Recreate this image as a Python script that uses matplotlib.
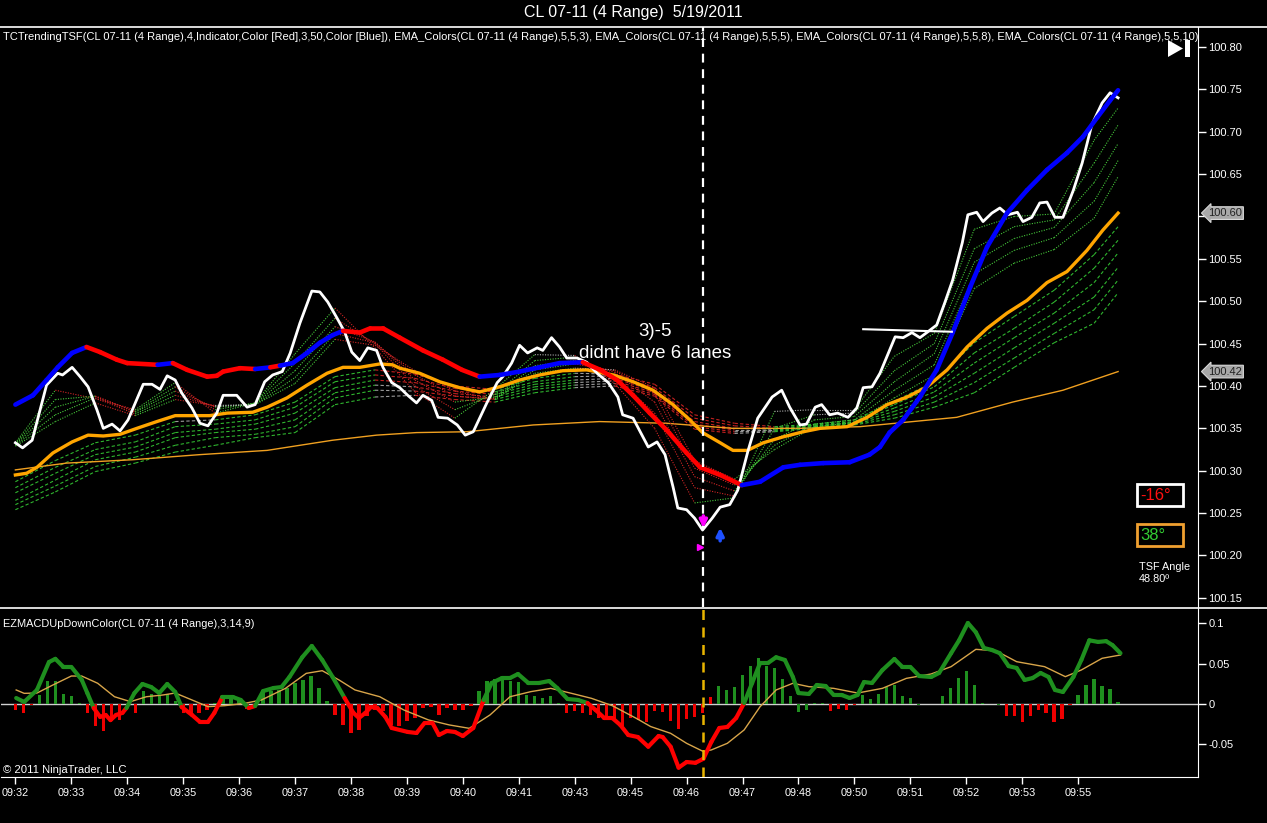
import numpy as np
import matplotlib
matplotlib.use("Agg")
import matplotlib.pyplot as plt
from matplotlib.collections import LineCollection
from matplotlib.patches import Rectangle, Polygon
from matplotlib.lines import Line2D
import matplotlib.transforms as mtransforms

# ---------------- DATA (bar index = range bar number, prices in USD) ----------------
title_text = "CL 07-11 (4 Range)  5/19/2011"
time_labels = ["09:32", "09:33", "09:34", "09:35", "09:36", "09:37", "09:38", "09:39", "09:40", "09:41",
               "09:43", "09:45", "09:46", "09:47", "09:48", "09:50", "09:51", "09:52", "09:53", "09:55"]
bars_per_label = 7

close_bar = [0.0, 0.9, 2.1, 3.9, 5.3, 5.9, 7.1, 8.1, 9.1, 10.2,
             11.0, 12.1, 13.1, 14.1, 15.0, 16.0, 17.1, 18.1, 19.0, 20.0,
             20.8, 22.1, 23.1, 24.1, 25.2, 26.0, 27.7, 29.0, 30.0, 31.2,
             32.2, 33.4, 34.4, 35.6, 37.1, 38.1, 39.1, 40.2, 41.2, 42.1,
             43.1, 44.1, 45.2, 46.0, 47.1, 48.1, 49.1, 50.2, 51.0, 52.1,
             52.9, 54.1, 55.3, 56.3, 57.3, 59.0, 60.3, 61.0, 62.1, 63.1,
             64.1, 65.3, 66.0, 67.1, 68.1, 69.0, 70.3, 71.5, 72.8, 74.2,
             75.4, 76.0, 77.3, 78.2, 79.2, 80.3, 81.3, 82.3, 82.9, 84.0,
             85.0, 86.0, 87.2, 88.2, 89.4, 90.4, 91.7, 92.9, 94.7, 95.9,
             96.9, 98.2, 99.0, 100.1, 100.9, 101.9, 102.9, 104.2, 105.3, 106.1,
             107.2, 108.2, 110.1, 111.1, 112.2, 113.2, 114.2, 115.3, 116.3, 117.3,
             118.5, 119.2, 120.3, 121.1, 122.2, 123.2, 124.2, 125.4, 126.1, 127.2,
             128.2, 129.1, 130.1, 131.1, 132.4, 133.5, 134.7, 136.0, 137.0, 138.0]
close_price = [100.333, 100.327, 100.336, 100.401, 100.415, 100.413, 100.422, 100.411, 100.399, 100.372,
               100.350, 100.355, 100.347, 100.360, 100.380, 100.402, 100.402, 100.396, 100.412, 100.407,
               100.392, 100.374, 100.356, 100.353, 100.368, 100.389, 100.389, 100.375, 100.378, 100.405,
               100.413, 100.417, 100.439, 100.474, 100.512, 100.511, 100.499, 100.481, 100.464, 100.440,
               100.430, 100.445, 100.442, 100.422, 100.404, 100.398, 100.389, 100.380, 100.389, 100.383,
               100.363, 100.362, 100.354, 100.342, 100.346, 100.380, 100.404, 100.411, 100.427, 100.448,
               100.439, 100.445, 100.442, 100.457, 100.446, 100.433, 100.433, 100.428, 100.415, 100.404,
               100.387, 100.366, 100.362, 100.346, 100.328, 100.334, 100.319, 100.281, 100.256, 100.254,
               100.244, 100.230, 100.244, 100.257, 100.260, 100.277, 100.324, 100.362, 100.387, 100.395,
               100.375, 100.354, 100.355, 100.375, 100.378, 100.366, 100.368, 100.363, 100.374, 100.398,
               100.399, 100.415, 100.458, 100.457, 100.463, 100.457, 100.464, 100.472, 100.498, 100.525,
               100.569, 100.602, 100.605, 100.594, 100.604, 100.610, 100.602, 100.605, 100.594, 100.599,
               100.616, 100.617, 100.599, 100.599, 100.631, 100.663, 100.708, 100.734, 100.746, 100.740]

# TCTrendingTSF line (1 = rising / blue, 0 = falling / red)
tsf_bar = [0.0, 2.2, 3.9, 5.3, 7.1, 8.9, 10.6, 12.7, 14.0, 17.8,
           19.7, 21.5, 24.0, 25.2, 26.0, 28.1, 30.0, 31.9, 33.1, 34.7,
           36.5, 38.1, 39.7, 41.0, 43.1, 44.4, 46.0, 48.1, 51.0, 53.5,
           55.9, 58.1, 60.6, 63.1, 65.6, 68.1, 71.0, 73.2, 75.3, 77.3,
           79.4, 81.5, 84.0, 85.7, 88.2, 90.9, 93.2, 96.1, 98.2, 101.1,
           104.4, 106.9, 108.2, 109.4, 111.1, 113.2, 115.3, 117.3, 119.5, 121.6,
           124.1, 126.6, 129.1, 131.6, 133.6, 135.4, 137.0, 138.0]
tsf_price = [100.378, 100.389, 100.407, 100.422, 100.439, 100.446, 100.440, 100.431, 100.427, 100.425,
             100.427, 100.419, 100.411, 100.412, 100.417, 100.421, 100.420, 100.422, 100.424, 100.427,
             100.439, 100.451, 100.460, 100.465, 100.463, 100.468, 100.468, 100.457, 100.442, 100.431,
             100.419, 100.411, 100.413, 100.417, 100.422, 100.427, 100.428, 100.419, 100.407, 100.389,
             100.368, 100.348, 100.321, 100.304, 100.295, 100.283, 100.287, 100.304, 100.307, 100.309,
             100.310, 100.319, 100.328, 100.345, 100.360, 100.387, 100.419, 100.463, 100.517, 100.564,
             100.604, 100.631, 100.655, 100.675, 100.694, 100.717, 100.737, 100.749]
tsf_up = [1, 1, 1, 1, 1, 1, 0, 0, 0, 0,
          1, 0, 0, 0, 0, 0, 0, 1, 0, 1,
          1, 1, 1, 1, 0, 0, 0, 0, 0, 0,
          0, 0, 1, 1, 1, 1, 1, 0, 0, 0,
          0, 0, 0, 0, 0, 0, 1, 1, 1, 1,
          1, 1, 1, 1, 1, 1, 1, 1, 1, 1,
          1, 1, 1, 1, 1, 1, 1, 1]

# thick orange EMA
ema_bar = [0.0, 1.4, 2.7, 4.7, 7.1, 9.1, 11.0, 13.1, 15.2, 17.7,
           20.0, 21.8, 24.3, 26.5, 29.7, 31.5, 34.0, 36.5, 39.0, 41.0,
           43.1, 45.6, 47.2, 48.1, 50.6, 53.1, 55.6, 58.1, 60.6, 63.1,
           65.6, 68.5, 71.5, 74.8, 77.3, 79.8, 82.3, 84.4, 86.0, 88.2,
           89.8, 91.6, 93.6, 96.1, 98.6, 100.7, 104.1, 106.6, 109.1, 111.6,
           114.1, 116.6, 119.1, 121.6, 124.1, 126.6, 129.1, 131.6, 134.1, 136.1, 138.0]
ema_price = [100.295, 100.297, 100.304, 100.321, 100.334, 100.342, 100.341, 100.343, 100.350, 100.358,
             100.365, 100.365, 100.365, 100.368, 100.369, 100.375, 100.386, 100.401, 100.415, 100.422,
             100.422, 100.426, 100.425, 100.421, 100.415, 100.405, 100.398, 100.393, 100.399, 100.407,
             100.413, 100.418, 100.419, 100.413, 100.405, 100.395, 100.378, 100.360, 100.345, 100.333,
             100.324, 100.324, 100.333, 100.340, 100.346, 100.350, 100.352, 100.363, 100.378, 100.387,
             100.399, 100.419, 100.446, 100.468, 100.486, 100.501, 100.522, 100.535, 100.560, 100.584, 100.604]

# thin orange (slow) average
slow_bar = [0.0, 6.4, 14.7, 23.1, 31.5, 35.6, 39.7, 45.2, 50.2, 56.5,
            64.8, 73.1, 81.5, 89.8, 98.2, 105.7, 112.3, 117.8, 124.8, 131.1, 138.0]
slow_price = [100.301, 100.309, 100.313, 100.319, 100.324, 100.330, 100.336, 100.342, 100.345, 100.346,
              100.354, 100.358, 100.356, 100.350, 100.350, 100.352, 100.358, 100.363, 100.381, 100.395, 100.417]

# EMA ribbons sampled every 5 bars
rib_bar = [0, 5, 10, 15, 20, 25, 30, 35, 40, 45, 50, 55, 60, 65, 70, 75, 80, 85, 90, 95,
           100, 105, 110, 115, 120, 125, 130, 135, 138]
fast1 = [100.333, 100.395, 100.385, 100.372, 100.404, 100.368, 100.380, 100.438, 100.492, 100.445,
         100.393, 100.362, 100.396, 100.437, 100.436, 100.403, 100.350, 100.262, 100.268, 100.370,
         100.372, 100.372, 100.435, 100.462, 100.585, 100.600, 100.603, 100.690, 100.728]
fast2 = [100.332, 100.384, 100.388, 100.370, 100.399, 100.372, 100.380, 100.427, 100.480, 100.450,
         100.400, 100.372, 100.390, 100.430, 100.434, 100.411, 100.368, 100.280, 100.270, 100.350,
         100.366, 100.368, 100.418, 100.450, 100.562, 100.588, 100.596, 100.663, 100.708]
fast3 = [100.331, 100.375, 100.388, 100.369, 100.394, 100.375, 100.379, 100.418, 100.470, 100.452,
         100.407, 100.381, 100.387, 100.424, 100.430, 100.416, 100.381, 100.293, 100.276, 100.337,
         100.360, 100.364, 100.405, 100.438, 100.546, 100.574, 100.587, 100.640, 100.686]
fast4 = [100.330, 100.366, 100.386, 100.367, 100.389, 100.376, 100.378, 100.410, 100.462, 100.451,
         100.413, 100.388, 100.385, 100.419, 100.426, 100.418, 100.391, 100.303, 100.283, 100.330,
         100.355, 100.360, 100.395, 100.425, 100.532, 100.560, 100.575, 100.618, 100.666]
fast5 = [100.329, 100.358, 100.380, 100.365, 100.384, 100.377, 100.378, 100.403, 100.455, 100.448,
         100.418, 100.394, 100.384, 100.415, 100.421, 100.419, 100.398, 100.312, 100.290, 100.325,
         100.352, 100.357, 100.386, 100.413, 100.515, 100.545, 100.561, 100.598, 100.647]
slowr1 = [100.287, 100.312, 100.333, 100.342, 100.358, 100.360, 100.366, 100.381, 100.411, 100.419,
          100.414, 100.400, 100.396, 100.409, 100.415, 100.414, 100.402, 100.366, 100.356, 100.352,
          100.355, 100.360, 100.382, 100.405, 100.451, 100.482, 100.513, 100.555, 100.588]
slowr2 = [100.280, 100.304, 100.325, 100.334, 100.352, 100.355, 100.360, 100.375, 100.405, 100.413,
          100.409, 100.397, 100.393, 100.405, 100.411, 100.412, 100.398, 100.362, 100.353, 100.350,
          100.354, 100.358, 100.378, 100.399, 100.439, 100.468, 100.499, 100.539, 100.572]
slowr3 = [100.274, 100.297, 100.319, 100.328, 100.345, 100.349, 100.355, 100.368, 100.398, 100.407,
          100.404, 100.394, 100.390, 100.402, 100.407, 100.409, 100.394, 100.358, 100.350, 100.349,
          100.353, 100.357, 100.374, 100.393, 100.427, 100.457, 100.486, 100.522, 100.557]
slowr4 = [100.265, 100.289, 100.313, 100.322, 100.339, 100.345, 100.349, 100.360, 100.392, 100.401,
          100.399, 100.391, 100.387, 100.399, 100.404, 100.406, 100.392, 100.355, 100.348, 100.348,
          100.352, 100.356, 100.370, 100.387, 100.415, 100.445, 100.474, 100.505, 100.540]
slowr5 = [100.260, 100.282, 100.305, 100.316, 100.330, 100.339, 100.343, 100.352, 100.386, 100.395,
          100.394, 100.388, 100.384, 100.396, 100.401, 100.403, 100.390, 100.352, 100.346, 100.347,
          100.351, 100.355, 100.366, 100.381, 100.404, 100.433, 100.462, 100.490, 100.525]
slowr6 = [100.254, 100.275, 100.299, 100.309, 100.322, 100.330, 100.339, 100.345, 100.378, 100.387,
          100.389, 100.384, 100.381, 100.392, 100.398, 100.400, 100.388, 100.349, 100.344, 100.346,
          100.350, 100.354, 100.362, 100.375, 100.392, 100.422, 100.451, 100.474, 100.510]

# drawn horizontal line, signal arrows, annotation
hline_bar = [106.1, 117.2]
hline_price = [100.467, 100.464]
signal_bar = 86.1
sell_arrow = (86.1, 100.250, 100.229)
sell_tri = (85.7, 100.210)
buy_arrow = (88.2, 100.214, 100.236)
note_bar = 80.0
note_lines = [("3)-5", 100.4637), ("didnt have 6 lanes", 100.4389)]

# EZMACD panel
macd_bar = [0.1, 1.1, 2.7, 4.2, 5.0, 6.0, 7.0, 8.3, 9.0, 9.8,
            10.6, 11.3, 11.9, 12.6, 13.4, 13.9, 14.9, 15.9, 17.0, 18.0,
            19.0, 20.0, 20.8, 22.1, 23.1, 24.1, 24.9, 25.9, 27.2, 28.2,
            29.2, 30.0, 31.0, 32.3, 33.3, 34.3, 35.9, 37.1, 38.4, 39.7,
            41.2, 42.3, 43.0, 43.8, 44.5, 45.3, 46.3, 47.1, 49.1, 50.2,
            51.2, 52.2, 53.0, 54.0, 55.0, 56.0, 57.3, 58.6, 59.6, 60.9,
            61.9, 62.9, 64.2, 65.5, 66.8, 67.8, 69.1, 70.4, 71.6, 72.6,
            73.7, 74.7, 75.7, 76.7, 77.9, 79.2, 80.5, 81.0, 82.0, 83.0,
            84.0, 85.1, 86.1, 87.1, 88.1, 89.1, 90.2, 91.2, 92.2, 93.2,
            94.2, 95.2, 96.3, 97.3, 98.0, 99.3, 100.3, 101.4, 102.4, 103.4,
            104.4, 105.4, 106.2, 107.2, 108.5, 110.0, 111.0, 112.0, 113.1, 114.6,
            115.6, 117.1, 118.1, 119.2, 120.2, 121.2, 122.2, 123.2, 124.3, 125.3,
            126.3, 127.3, 128.3, 129.3, 130.1, 131.1, 132.4, 133.4, 134.4, 135.5,
            136.5, 137.3, 138.3]
macd_val = [0.0074, 0.0025, 0.0174, 0.052, 0.056, 0.046, 0.046, 0.030, 0.0136, -0.005,
            -0.016, -0.0136, -0.020, -0.0136, -0.011, -0.005, 0.0136, 0.0248, 0.021, 0.0136,
            0.0248, 0.0149, -0.0037, -0.0136, -0.0223, -0.0223, -0.011, 0.0087, 0.0087, 0.005,
            -0.005, -0.0025, 0.016, 0.0198, 0.021, 0.0335, 0.058, 0.072, 0.0546, 0.0335,
            0.0074, -0.011, -0.0174, -0.011, -0.0037, -0.005, -0.016, -0.0298, -0.0347, -0.036,
            -0.0236, -0.0236, -0.0385, -0.0335, -0.0347, -0.0397, -0.0298, 0.005, 0.026, 0.0322,
            0.0322, 0.0372, 0.026, 0.026, 0.0285, 0.0198, 0.0062, 0.005, 0.0012, -0.0074,
            -0.0174, -0.0174, -0.026, -0.0385, -0.041, -0.053, -0.0397, -0.041, -0.053, -0.079,
            -0.072, -0.073, -0.068, -0.047, -0.0298, -0.0285, -0.0174, 0.0012, 0.026, 0.051,
            0.051, 0.058, 0.0546, 0.0335, 0.0136, 0.0124, 0.0236, 0.0223, 0.0112, 0.0112,
            0.0074, 0.0112, 0.0273, 0.026, 0.042, 0.0558, 0.046, 0.046, 0.0347, 0.0335,
            0.0385, 0.063, 0.079, 0.1005, 0.089, 0.0695, 0.067, 0.063, 0.047, 0.0447,
            0.0298, 0.0322, 0.0385, 0.0335, 0.0174, 0.0149, 0.0335, 0.0546, 0.079, 0.077,
            0.078, 0.073, 0.063]
sig_bar = [0.1, 1.1, 2.7, 4.7, 7.0, 8.3, 10.3, 12.4, 14.4, 16.4,
           18.5, 20.0, 22.1, 24.1, 26.2, 28.7, 30.8, 33.8, 36.4, 38.4,
           40.5, 42.5, 45.6, 48.6, 51.7, 54.3, 56.8, 59.4, 61.9, 64.5,
           67.0, 69.6, 72.1, 74.7, 77.7, 79.5, 82.0, 84.0, 86.1, 87.1,
           89.1, 91.2, 93.2, 95.2, 97.3, 99.3, 102.4, 105.4, 108.5, 111.5,
           114.6, 117.1, 120.2, 122.7, 125.3, 128.8, 131.4, 133.4, 136.0, 138.3]
sig_val = [0.0174, 0.0132, 0.0136, 0.0236, 0.0347, 0.0347, 0.0257, 0.009, 0.0029, 0.009,
           0.0112, 0.0136, 0.005, -0.0033, -0.0021, 0.0008, 0.005, 0.0194, 0.038, 0.0413,
           0.0298, 0.0174, 0.009, -0.0074, -0.0198, -0.026, -0.0302, -0.0136, 0.009, 0.0153,
           0.0194, 0.0132, 0.007, -0.0021, -0.0178, -0.028, -0.0364, -0.0488, -0.059, -0.057,
           -0.0488, -0.0322, -0.0033, 0.0174, 0.0257, 0.0215, 0.0194, 0.0136, 0.0194, 0.0318,
           0.0372, 0.0463, 0.0678, 0.0661, 0.0525, 0.0463, 0.0339, 0.0422, 0.0567, 0.0608]
hist_val = [-0.0070, -0.0112, -0.0012, 0.0116, 0.0290, 0.0282, 0.0124, 0.0104, 0.0010, -0.0112,
            -0.0277, -0.0339, -0.0215, -0.0195, -0.0050, -0.0112, 0.0157, 0.0124, 0.0095, 0.0124,
            0.0033, -0.0112, -0.0132, -0.0112, -0.0070, 0.0012, 0.0095, 0.0083, 0.0062, -0.0062,
            -0.0021, 0.0178, 0.0157, 0.0178, 0.0199, 0.0261, 0.0302, 0.0344, 0.0199, 0.0033,
            -0.0132, -0.0257, -0.0360, -0.0319, -0.0153, -0.0070, -0.0091, -0.0257, -0.0277, -0.0215,
            -0.0174, -0.0050, -0.0037, -0.0132, -0.0050, -0.0070, -0.0070, -0.0021, 0.0157, 0.0282,
            0.0311, 0.0302, 0.0282, 0.0269, 0.0116, 0.0104, 0.0075, 0.0095, 0.0012, -0.0112,
            -0.0091, -0.0112, -0.0132, -0.0174, -0.0153, -0.0215, -0.0277, -0.0174, -0.0195, -0.0228,
            -0.0091, -0.0099, -0.0215, -0.0311, -0.0186, -0.0161, -0.0112, 0.0083, 0.0228, 0.0178,
            0.0211, 0.0364, 0.0468, 0.0571, 0.0468, 0.0447, 0.0311, 0.0095, -0.0104, -0.0070,
            0.0012, 0.0012, -0.0091, -0.0062, -0.0079, -0.0012, 0.0116, 0.0066, 0.0128, 0.0207,
            0.0240, 0.0095, 0.0075, -0.0008, 0.0000, 0.0000, 0.0104, 0.0199, 0.0323, 0.0406,
            0.0240, 0.0012, 0.0004, -0.0008, -0.0145, -0.0145, -0.0228, -0.0153, -0.0079, -0.0112,
            -0.0228, -0.0186, -0.0012, 0.0116, 0.0240, 0.0315, 0.0228, 0.0190, 0.0025]
hist_color_override = {87: "red", 98: "green", 99: "green", 113: "green", 123: "green"}

angle_red_text = "-16°"
angle_green_text = "38°"
tsf_angle_text = ["TSF Angle", "48.80º"]
main_label = ("TCTrendingTSF(CL 07-11 (4 Range),4,Indicator,Color [Red],3,50,Color [Blue]), "
              "EMA_Colors(CL 07-11 (4 Range),5,5,3), EMA_Colors(CL 07-11 (4 Range),5,5,5), "
              "EMA_Colors(CL 07-11 (4 Range),5,5,8), EMA_Colors(CL 07-11 (4 Range),5,5,10)")
macd_label = "EZMACDUpDownColor(CL 07-11 (4 Range),3,14,9)"
copyright_text = "© 2011 NinjaTrader, LLC"

# ---------------- STYLE / LAYOUT ----------------
plt.rcParams['font.family'] = ['Liberation Sans', 'DejaVu Sans']
W, H = 1267, 823
fig = plt.figure(figsize=(W / 100, H / 100), dpi=100, facecolor='black')


def fx(p):
    return p / W


def fy(p):
    return 1 - p / H


LPX, RPX = 1, 1198
ax = fig.add_axes([fx(LPX), fy(607), fx(RPX) - fx(LPX), fy(27) - fy(607)], facecolor='black')
ax2 = fig.add_axes([fx(LPX), fy(777), fx(RPX) - fx(LPX), fy(608) - fy(777)], facecolor='black')

XMIN, XMAX = -1.8, 148.0
for a in (ax, ax2):
    a.set_xlim(XMIN, XMAX)
    a.spines['left'].set_visible(False)
    a.spines['top'].set_visible(False)
    a.spines['right'].set_color('white')
    a.spines['bottom'].set_color('white')
    a.yaxis.tick_right()
    a.tick_params(axis='y', colors='white', labelcolor='white', labelsize=8,
                  length=6, width=1, pad=1.5, direction='out')
ax.spines['bottom'].set_visible(False)

marker_values = (ema_price[-1], slow_price[-1])   # last values shown in axis markers

ax.set_ylim(100.1392, 100.8236)
yt = np.round(np.arange(100.15, 100.8001, 0.05), 2)
ax.set_yticks(yt)
# a tick label hidden under an axis marker box is left blank (the box shows the value)
ax.set_yticklabels(["" if any(abs(v - m) < 0.006 for m in marker_values) else f"{v:.2f}" for v in yt])
ax.set_xticks([])

ax2.set_ylim(-0.0906, 0.1191)
ax2.set_yticks([-0.05, 0, 0.05, 0.1])
ax2.set_yticklabels(["-0.05", "0", "0.05", "0.1"])
ax2.set_xticks([i * bars_per_label for i in range(len(time_labels))])
ax2.set_xticklabels(time_labels)
ax2.tick_params(axis='x', colors='white', labelcolor='white', labelsize=7.8,
                length=5, width=1, pad=3)

# frame lines spanning the whole width
fig.add_artist(Line2D([0, 1], [fy(27), fy(27)], color='white', lw=1.2, transform=fig.transFigure))
fig.add_artist(Line2D([0, 1], [fy(607.5), fy(607.5)], color='white', lw=1.2, transform=fig.transFigure))


def colored_line(a, xs, ys, colors_fn, lw, ls='solid', z=3, cap='butt'):
    xs = np.asarray(xs, float)
    ys = np.asarray(ys, float)
    pts = np.column_stack([xs, ys])
    segs = np.stack([pts[:-1], pts[1:]], axis=1)
    cols = [colors_fn(i, ys) for i in range(len(segs))]
    lc = LineCollection(segs, colors=cols, linewidths=lw, linestyles=ls, zorder=z,
                        capstyle=cap, joinstyle='round')
    a.add_collection(lc)


def slope_color(up, dn, flat, thr):
    def f(i, ys):
        d = ys[i + 1] - ys[i]
        if d > thr:
            return up
        if d < -thr:
            return dn
        return flat
    return f


# slow ribbon (dashed)
for s in (slowr1, slowr2, slowr3, slowr4, slowr5, slowr6):
    colored_line(ax, rib_bar, s, slope_color('#2fb52f', '#c42020', '#9a9a9a', 0.0025),
                 lw=0.8, ls=(0, (3, 2)), z=2)
# thin orange
ax.plot(slow_bar, slow_price, color='#f0a020', lw=1.0, zorder=2.5)
# fast ribbon (dotted)
for s in (fast1, fast2, fast3, fast4, fast5):
    colored_line(ax, rib_bar, s, slope_color('#45c83a', '#d02525', '#b0b0b0', 0.0025),
                 lw=0.8, ls=(0, (1, 1.3)), z=3)
# thick orange
ax.plot(ema_bar, ema_price, color='#ffa500', lw=2.4, zorder=4, solid_joinstyle='round')
# close line
ax.plot(close_bar, close_price, color='white', lw=2.0, zorder=5, solid_joinstyle='round')
# TSF
colored_line(ax, tsf_bar, tsf_price,
             lambda i, ys: '#0000ff' if tsf_up[i + 1] else '#ff0000',
             lw=3.3, z=6, cap='round')

# drawn horizontal line
ax.plot(hline_bar, hline_price, color='white', lw=1.5, zorder=6)

# vertical signal line
ax.axvline(signal_bar, color='white', lw=1.6, ls=(0, (4, 3)), zorder=7)
ax2.axvline(signal_bar, color='#e8b400', lw=1.8, ls=(0, (4, 3)), zorder=7)

# arrows
ax.annotate('', xy=(sell_arrow[0], sell_arrow[2]), xytext=(sell_arrow[0], sell_arrow[1]),
            arrowprops=dict(arrowstyle='-|>', color='#ff00ff', lw=2.5, mutation_scale=11),
            zorder=8)
ax.plot([sell_tri[0]], [sell_tri[1]], marker='>', color='#ff00ff', markersize=4, zorder=8)
ax.annotate('', xy=(buy_arrow[0], buy_arrow[2]), xytext=(buy_arrow[0], buy_arrow[1]),
            arrowprops=dict(arrowstyle='-|>', color='#1e50ff', lw=2.5, mutation_scale=11),
            zorder=8)

# annotation text
for txt, yv in note_lines:
    ax.text(note_bar, yv, txt, color='white', fontsize=13.5, ha='center', va='center', zorder=9)

# indicator labels
ax.text(0.002, (607 - 37) / 580, main_label, transform=ax.transAxes, color='white',
        fontsize=8.0, ha='left', va='center', clip_on=True, zorder=9)
ax2.text(0.002, (777 - 624) / 169, macd_label, transform=ax2.transAxes, color='white',
         fontsize=7.9, ha='left', va='center', zorder=9)
ax2.text(0.002, (777 - 770) / 169, copyright_text, transform=ax2.transAxes, color='white',
         fontsize=8.1, ha='left', va='center', zorder=9)

# price markers on the axis
bt = mtransforms.blended_transform_factory(ax.transAxes, ax.transData)
for v in marker_values:
    ax.text(1.0085, v, f"{v:.2f}", transform=bt, color='#202020', fontsize=8,
            ha='left', va='center', clip_on=False, zorder=10,
            bbox=dict(boxstyle='larrow,pad=0.12', fc='#a8a8a8', ec='#d8d8d8', lw=0.8))

# MACD histogram
hist_bar = list(range(len(hist_val)))
hcols = []
for i, v in enumerate(hist_val):
    c = hist_color_override.get(i, 'green' if v >= 0 else 'red')
    hcols.append('#1f8f1f' if c == 'green' else '#ee0000')
ax2.bar(hist_bar, hist_val, width=0.42, color=hcols, zorder=3)
ax2.axhline(0, color='#d0d0d0', lw=1.0, zorder=2)
ax2.plot(sig_bar, sig_val, color='#d8a54a', lw=1.0, zorder=4)
colored_line(ax2, macd_bar, macd_val,
             lambda i, ys: '#1f8f1f' if (ys[i] + ys[i + 1]) / 2 >= 0 else '#ff0000',
             lw=3.0, z=5, cap='round')

# title
fig.text(0.5, fy(12), title_text, color='white', fontsize=11.5, ha='center', va='center')

# play-to-end icon
fig.add_artist(Polygon([[fx(1168), fy(40)], [fx(1168), fy(57)], [fx(1183), fy(48.5)]],
                       closed=True, fc='white', ec='none', transform=fig.transFigure))
fig.add_artist(Rectangle((fx(1185), fy(57)), fx(4.5), 17 / H, fc='white', ec='none',
                         transform=fig.transFigure))

# angle boxes
fig.add_artist(Rectangle((fx(1137), fy(506)), fx(46), 22 / H, fc='black', ec='white', lw=2,
                         transform=fig.transFigure))
fig.text(fx(1140), fy(495.5), angle_red_text, color='#ff1010', fontsize=12, ha='left', va='center')
fig.add_artist(Rectangle((fx(1137), fy(546)), fx(46), 22 / H, fc='black', ec='#f0a030', lw=2,
                         transform=fig.transFigure))
fig.text(fx(1140), fy(535.5), angle_green_text, color='#33cc33', fontsize=12, ha='left', va='center')
fig.text(fx(1139), fy(567), tsf_angle_text[0], color='white', fontsize=7.8, ha='left', va='center')
fig.text(fx(1139), fy(579), tsf_angle_text[1], color='white', fontsize=7.8, ha='left', va='center')

fig.savefig('out.png', dpi=100, facecolor='black')
